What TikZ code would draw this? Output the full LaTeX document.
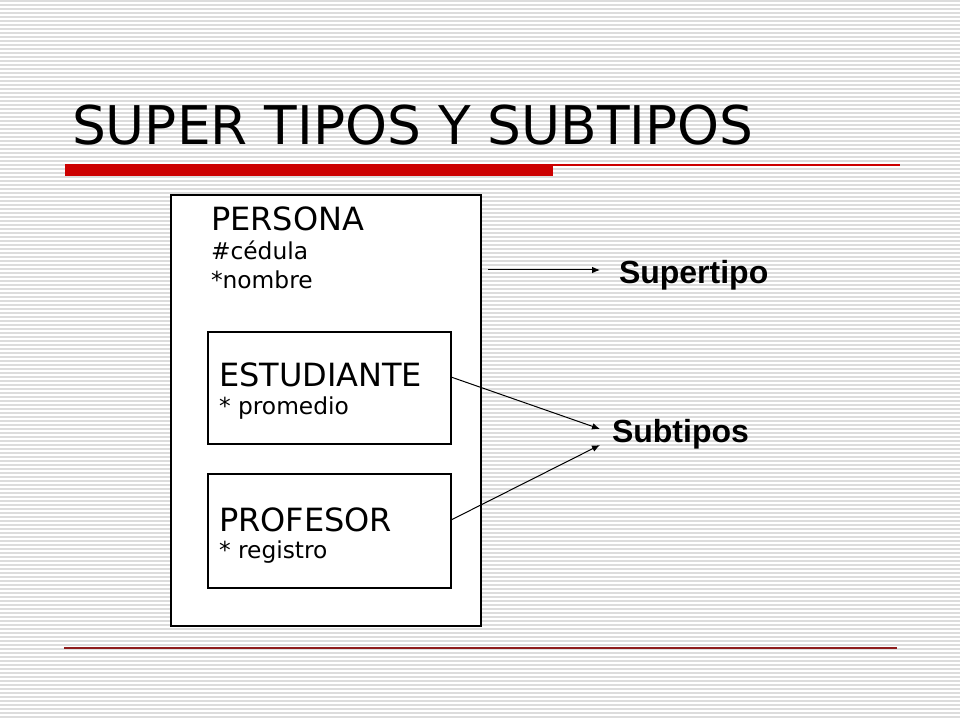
\documentclass[tikz,border=0pt]{standalone}
\usepackage{fontspec}
\setmainfont{DejaVu Sans}
\newfontfamily\arialb{Liberation Sans}
\usetikzlibrary{arrows.meta}
\definecolor{bgline}{HTML}{DCDCDC}
\definecolor{barred}{HTML}{CC0000}
\definecolor{darkred}{HTML}{8E1C1C}
\tikzset{
  box/.style={draw=black, line width=0.9pt, fill=white},
  lbl/.style={anchor=base west, inner sep=0pt, outer sep=0pt},
  big/.style={lbl, font=\fontsize{24}{28}\selectfont},
  small/.style={lbl, font=\fontsize{17.5}{20}\selectfont},
  side/.style={lbl, font=\arialb\bfseries\fontsize{24}{28}\selectfont},
  conn/.style={draw=black, line width=0.75pt, -{Latex[length=6pt,width=5pt]}}
}
\begin{document}
\begin{tikzpicture}[x=0.75pt,y=-0.75pt]
\useasboundingbox (0,0) rectangle (960,720);
\fill[white] (0,0) rectangle (960,720);
\foreach \i in {0,...,179} {
  \fill[bgline] (0,{1+4*\i-0.7}) rectangle (960,{1+4*\i+0.7});
}
% title
\node[lbl, font=\fontsize{40}{46}\selectfont] (title) at (72,145) {SUPER TIPOS Y SUBTIPOS};
\fill[barred] (65,164) rectangle (553,176);
\draw[barred, line width=0.9pt] (553,165) -- (900,165);
\draw[darkred, line width=1.5pt] (64,648) -- (897,648);
% boxes
\draw[box] (171,195) rectangle (481,626);
\draw[box] (208,332) rectangle (451,444);
\draw[box] (208,474) rectangle (451,588);
\coordinate (estR) at (451,377);
\coordinate (proR) at (451,520);
\coordinate (supL) at (488,270);
% texts
\node[big] (persona) at (211,231) {PERSONA};
\node[small] (cedula) at (211,260) {\#cédula};
\node[small] (nombre) at (211,289) {*nombre};
\node[big] (est) at (219,386) {ESTUDIANTE};
\node[small] (prom) at (219,414) {* promedio};
\node[big] (prof) at (219,531) {PROFESOR};
\node[small] (reg) at (219,558) {* registro};
\node[side] (super) at (619,284) {Supertipo};
\node[side] (sub) at (612,442) {Subtipos};
\coordinate (supA) at (600,270);
\coordinate (subA) at (600,429);
\coordinate (subB) at (600,445);
\draw[conn] (supL) -- (supA);
\draw[conn] (estR) -- (subA);
\draw[conn] (proR) -- (subB);
\end{tikzpicture}
\end{document}
